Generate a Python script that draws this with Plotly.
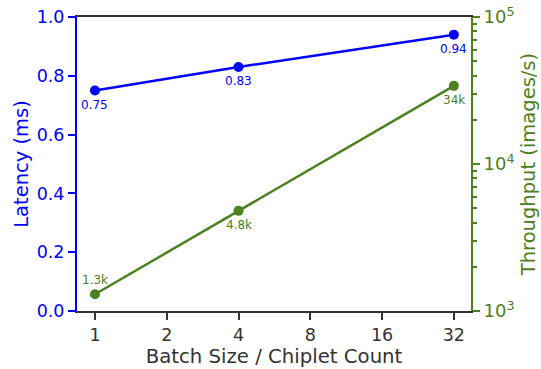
import math
import plotly.graph_objects as go

batch = [1, 4, 32]
latency = [0.75, 0.83, 0.94]
throughput = [1300, 4800, 34000]
lat_labels = ["0.75", "0.83", "0.94"]
thr_labels = ["1.3k", "4.8k", "34k"]
thr_label_side = [1, -1, -1]
x_ticks = [1, 2, 4, 8, 16, 32]

BLUE = "#0000ff"
GREEN = "#4d8020"
DARK = "#333333"
FONT = "DejaVu Sans"

fig = go.Figure()
fig.add_trace(go.Scatter(
    x=batch, y=latency, mode="lines+markers",
    line=dict(color=BLUE, width=2.5), marker=dict(color=BLUE, size=10),
    yaxis="y", showlegend=False, cliponaxis=False))
fig.add_trace(go.Scatter(
    x=batch, y=throughput, mode="lines+markers",
    line=dict(color=GREEN, width=2.5), marker=dict(color=GREEN, size=10),
    yaxis="y2", showlegend=False, cliponaxis=False))

for xv, yv, t in zip(batch, latency, lat_labels):
    fig.add_annotation(x=math.log10(xv), y=yv, xref="x", yref="y", text=t,
                       showarrow=False, yshift=-14,
                       font=dict(color=BLUE, size=12, family=FONT))
for xv, yv, t, s in zip(batch, throughput, thr_labels, thr_label_side):
    fig.add_annotation(x=math.log10(xv), y=math.log10(yv), xref="x", yref="y2", text=t,
                       showarrow=False, yshift=14 * s,
                       font=dict(color=GREEN, size=12, family=FONT))

minor_vals = [m * 10 ** e for e in (3, 4) for m in range(2, 10)]

fig.update_layout(
    width=541, height=369,
    margin=dict(l=77, r=70, t=17, b=58),
    plot_bgcolor="white", paper_bgcolor="white",
    font=dict(family=FONT, size=17.5, color=DARK),
    xaxis=dict(type="log", range=[-0.0753, 1.577], tickmode="array", automargin=False,
               tickvals=x_ticks, ticktext=[str(v) for v in x_ticks],
               showgrid=False, zeroline=False, showline=True, linecolor=DARK,
               linewidth=2, mirror=True, ticks="outside", ticklen=7, tickwidth=2,
               tickcolor=DARK, tickfont=dict(size=17.5, color=DARK),
               title=dict(text="Batch Size / Chiplet Count", font=dict(size=19.7, color=DARK), standoff=4)),
    yaxis=dict(range=[0, 1], tickmode="array", tickvals=[0, 0.2, 0.4, 0.6, 0.8, 1.0],
               ticktext=["0.0", "0.2", "0.4", "0.6", "0.8", "1.0"], automargin=False,
               showgrid=False, zeroline=False, showline=True, linecolor=BLUE, linewidth=2,
               ticks="outside", ticklen=7, tickwidth=2, tickcolor=BLUE,
               tickfont=dict(size=17.5, color=BLUE),
               title=dict(text="Latency (ms)", font=dict(size=19.5, color=BLUE), standoff=3)),
    yaxis2=dict(type="log", range=[3, 5], overlaying="y", side="right", automargin=False,
                tickmode="array", tickvals=[1e3, 1e4, 1e5],
                ticktext=["10<sup>3</sup>", "10<sup>4</sup>", "10<sup>5</sup>"],
                showgrid=False, zeroline=False, showline=True, linecolor=GREEN, linewidth=2,
                ticks="outside", ticklen=7, tickwidth=2, tickcolor=GREEN,
                tickfont=dict(size=18, color=GREEN),
                minor=dict(tickmode="array", tickvals=minor_vals, ticks="outside",
                           ticklen=4, tickwidth=1.5, tickcolor=GREEN, showgrid=False),
                title=dict(text="Throughput (images/s)", font=dict(size=19.5, color=GREEN), standoff=8)),
)

fig.write_html("out.html")
